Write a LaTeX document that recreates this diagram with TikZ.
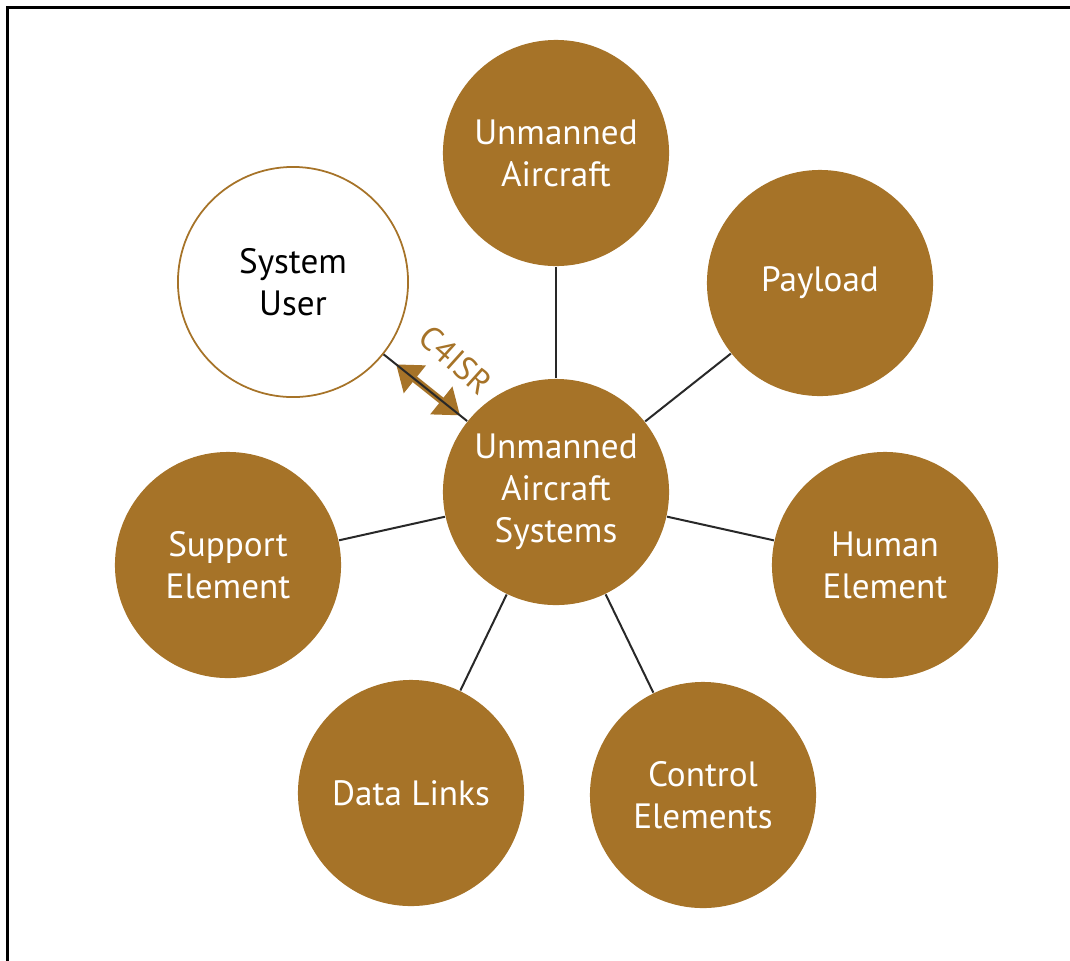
\documentclass[tikz,border=0pt]{standalone}
\usepackage{fontspec}
\setmainfont{PT Sans}
\usetikzlibrary{arrows.meta}
\definecolor{uasbrown}{RGB}{166,115,40}
\definecolor{linkgray}{RGB}{40,40,40}

\begin{document}
\begin{tikzpicture}[x=0.01cm, y=-0.01cm]
		\useasboundingbox (0,0) rectangle (1070,960);
		\begin{scope}
			\clip (0,0) rectangle (1070,960);
			\draw[line width=0.03cm] (7.5,7.5) rectangle (1100,1000);
		\end{scope}

		\begin{scope}[every node/.style={circle, minimum size=2.26cm, inner sep=0pt, align=center,
				fill=uasbrown, text=white, font=\fontsize{10}{11.9}\selectfont}]
			\node (UAS) at (556,492) {Unmanned\\Aircraft\\Systems};
			\node (UA) at (556,153) {Unmanned\\Aircraft};
			\node (P) at (820,283) {Payload};
			\node (HE) at (885,565) {Human\\Element};
			\node (CE) at (703,795) {Control\\Elements};
			\node (DL) at (411,793) {Data Links};
			\node (SE) at (228,565) {Support\\Element};
			\node[fill=white, draw=uasbrown, line width=0.5pt, text=black, minimum size=2.3cm] (SU) at (293,282) {System\\User};
		\end{scope}

		\begin{scope}[line width=0.02cm, draw=linkgray]
			\draw[uasbrown, line width=0.07cm, shorten <=0.16cm, shorten >=0.09cm,
				{Triangle[length=0.24cm, width=0.34cm]}-{Triangle[length=0.24cm, width=0.34cm]}]
				(SU) -- (UAS);
			\draw (SU)--(UAS);
			\draw (UAS)--(UA);
			\draw (UAS)--(P);
			\draw (UAS)--(HE);
			\draw (UAS)--(CE);
			\draw (UAS)--(DL);
			\draw (UAS)--(SE);
		\end{scope}

		\node[rotate=-42, text=uasbrown, font=\fontsize{9.5}{11}\selectfont] (C) at (456,360) {C4ISR};
\end{tikzpicture}
\end{document}
